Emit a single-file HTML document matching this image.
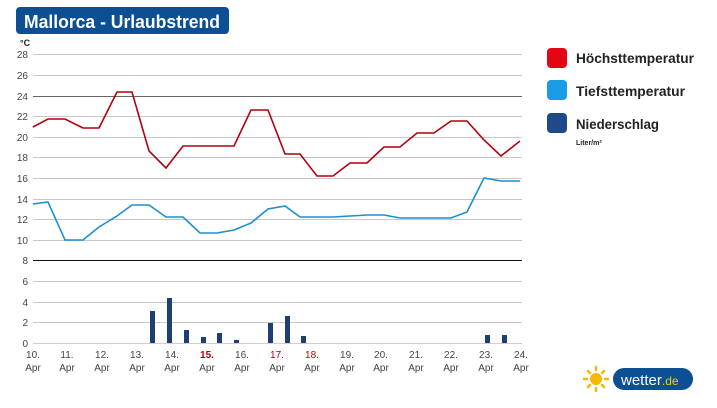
<!DOCTYPE html>
<html><head><meta charset="utf-8"><style>
body{margin:0;width:717px;height:403px;background:#fff;overflow:hidden;font-family:"Liberation Sans",sans-serif}
</style></head><body>
<svg width="717" height="403" xmlns="http://www.w3.org/2000/svg" font-family="Liberation Sans, sans-serif">
<rect x="16" y="7" width="213" height="27" rx="4" fill="#0d4f93"/>
<text x="24" y="28" font-size="18" font-weight="bold" fill="#fff" textLength="196" lengthAdjust="spacingAndGlyphs">Mallorca - Urlaubstrend</text>
<text x="20" y="46" font-size="9" font-weight="bold" fill="#222">°C</text>
<g stroke="#c8c8c8" stroke-width="1">
<line x1="33" x2="522" y1="54.5" y2="54.5"/><line x1="33" x2="522" y1="75.5" y2="75.5"/>
<line x1="33" x2="522" y1="116.5" y2="116.5"/><line x1="33" x2="522" y1="137.5" y2="137.5"/>
<line x1="33" x2="522" y1="157.5" y2="157.5"/><line x1="33" x2="522" y1="178.5" y2="178.5"/>
<line x1="33" x2="522" y1="199.5" y2="199.5"/><line x1="33" x2="522" y1="219.5" y2="219.5"/>
<line x1="33" x2="522" y1="240.5" y2="240.5"/><line x1="33" x2="522" y1="281.5" y2="281.5"/>
<line x1="33" x2="522" y1="302.5" y2="302.5"/><line x1="33" x2="522" y1="322.5" y2="322.5"/>
<line x1="33" x2="522" y1="343.5" y2="343.5" stroke="#e0c8c8"/>
</g>
<line x1="33" x2="522" y1="96.5" y2="96.5" stroke="#666"/>
<line x1="33" x2="522" y1="260.5" y2="260.5" stroke="#111"/>
<g font-size="10" fill="#444" text-anchor="end">
<text x="28" y="58">28</text><text x="28" y="79">26</text><text x="28" y="100">24</text><text x="28" y="120">22</text><text x="28" y="141">20</text><text x="28" y="161">18</text><text x="28" y="182">16</text><text x="28" y="203">14</text><text x="28" y="223">12</text><text x="28" y="244">10</text><text x="28" y="264">8</text><text x="28" y="285">6</text><text x="28" y="306">4</text><text x="28" y="326">2</text><text x="28" y="347">0</text>
</g>
<g fill="#1f3f73">
<rect x="150" y="311" width="5" height="32"/><rect x="167" y="298" width="5" height="45"/><rect x="184" y="330" width="5" height="13"/><rect x="201" y="337" width="5" height="6"/><rect x="217" y="333" width="5" height="10"/><rect x="234" y="340" width="5" height="3"/><rect x="268" y="323" width="5" height="20"/><rect x="285" y="316" width="5" height="27"/><rect x="301" y="336" width="5" height="7"/><rect x="485" y="335" width="5" height="8"/><rect x="502" y="335" width="5" height="8"/>
</g>
<polyline fill="none" stroke="#b3000b" stroke-width="1.6" points="33,127 48,119 65,119 83,128 99,128 117,92 132,92 149,151 166,168 183,146 200,146 217,146 234,146 251,110 268,110 285,154 300,154 317,176 333,176 350,163 367,163 384,147 400,147 417,133 434,133 451,121 467,121 484,140 501,156 520,141"/>
<polyline fill="none" stroke="#1b8fd0" stroke-width="1.6" points="33,204 48,202 65,240 83,240 99,227 117,216 132,205 149,205 166,217 183,217 200,233 217,233 234,230 251,223 268,209 285,206 300,217 333,217 367,215 384,215 400,218 434,218 451,218 467,212 484,178 501,181 520,181"/>
<g font-size="10" fill="#444" text-anchor="middle">
<text x="33" y="358">10.</text><text x="33" y="371">Apr</text>
<text x="67" y="358">11.</text><text x="67" y="371">Apr</text>
<text x="102" y="358">12.</text><text x="102" y="371">Apr</text>
<text x="137" y="358">13.</text><text x="137" y="371">Apr</text>
<text x="172" y="358">14.</text><text x="172" y="371">Apr</text>
<text x="207" y="358" fill="#b3000b" font-weight="bold">15.</text><text x="207" y="371">Apr</text>
<text x="242" y="358">16.</text><text x="242" y="371">Apr</text>
<text x="277" y="358" fill="#b3000b">17.</text><text x="277" y="371">Apr</text>
<text x="312" y="358" fill="#b3000b">18.</text><text x="312" y="371">Apr</text>
<text x="347" y="358">19.</text><text x="347" y="371">Apr</text>
<text x="381" y="358">20.</text><text x="381" y="371">Apr</text>
<text x="416" y="358">21.</text><text x="416" y="371">Apr</text>
<text x="451" y="358">22.</text><text x="451" y="371">Apr</text>
<text x="486" y="358">23.</text><text x="486" y="371">Apr</text>
<text x="521" y="358">24.</text><text x="521" y="371">Apr</text>
</g>
<rect x="547" y="48" width="20" height="20" rx="4" fill="#e30613"/>
<rect x="547" y="80" width="20" height="20" rx="4" fill="#1a9be6"/>
<rect x="547" y="113" width="20" height="20" rx="4" fill="#1f4a8a"/>
<g font-size="14" font-weight="bold" fill="#222">
<text x="576" y="63" textLength="118" lengthAdjust="spacingAndGlyphs">Höchsttemperatur</text><text x="576" y="96" textLength="109" lengthAdjust="spacingAndGlyphs">Tiefsttemperatur</text><text x="576" y="129" textLength="83" lengthAdjust="spacingAndGlyphs">Niederschlag</text>
</g>
<text x="576" y="145" font-size="7" font-weight="bold" fill="#222">Liter/m²</text>
<g stroke="#f5b800" stroke-width="2.5" stroke-linecap="round">
<line x1="596" y1="367" x2="596" y2="370"/><line x1="596" y1="388" x2="596" y2="391"/><line x1="584" y1="379" x2="587" y2="379"/><line x1="605" y1="379" x2="608" y2="379"/>
<line x1="588" y1="371" x2="590" y2="373"/><line x1="602" y1="385" x2="604" y2="387"/><line x1="588" y1="387" x2="590" y2="385"/><line x1="602" y1="373" x2="604" y2="371"/>
</g>
<circle cx="596" cy="379" r="6" fill="#f5b800"/>
<rect x="613" y="368" width="80" height="22" rx="11" fill="#0d4f93"/>
<text x="621" y="385" font-size="15" fill="#fff">wetter<tspan fill="#f5d000" font-size="12">.de</tspan></text>
</svg>
</body></html>
